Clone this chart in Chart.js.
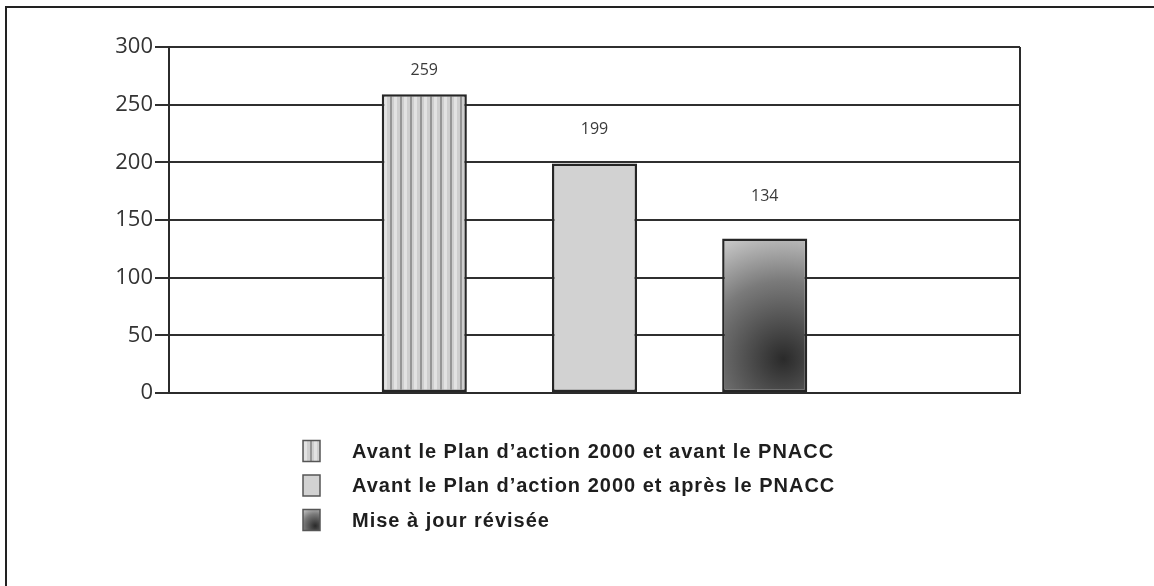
<!DOCTYPE html>
<html>
<head>
<meta charset="utf-8">
<script src="https://cdn.jsdelivr.net/npm/chart.js"></script>
<style>
    * { margin: 0; padding: 0; box-sizing: border-box; }
    body { background: #fff; width: 1154px; height: 586px; overflow: hidden; }
    .frame {
        position: absolute; left: 5px; top: 6px; right: 0; bottom: 0;
        border-top: 2px solid #222; border-left: 2px solid #222;
    }
    .wrap { position: absolute; left: 0; top: 0; width: 1154px; height: 586px; }
</style>
</head>
<body>
<div class="frame"></div>
<div class="wrap"><canvas id="myChart"></canvas></div>
<script>
    // five slots on the x axis, the three bars sit in the middle ones
    const categories = ['', 'Avant PNACC', 'Après PNACC', 'Révisée', ''];
    const seriesLabels = [
        'Avant le Plan d\u2019action 2000 et avant le PNACC',
        'Avant le Plan d\u2019action 2000 et après le PNACC',
        'Mise à jour révisée'
    ];
    const values = [259, 199, 134];
    const slots = [1, 2, 3];
    const yTicks = [0, 50, 100, 150, 200, 250, 300];
    const labelOffsets = [24, 34, 42];

    // vertical stripes for the first bar
    function stripePattern() {
        const c = document.createElement('canvas');
        c.width = 10; c.height = 10;
        const g = c.getContext('2d');
        g.fillStyle = '#cecece'; g.fillRect(0, 0, 10, 10);
        g.fillStyle = '#e2e2e2'; g.fillRect(4, 0, 3, 10);
        g.fillStyle = '#959595'; g.fillRect(0, 0, 2, 10);
        return g.createPattern(c, 'repeat');
    }
    const stripes = stripePattern();

    function shadedFill(ctx, x0, y0, x1, y1) {
        const cx = x0 + (x1 - x0) * 0.72, cy = y0 + (y1 - y0) * 0.78;
        const r = Math.hypot(cx - x0, cy - y0) * 1.05;
        const g = ctx.createRadialGradient(cx, cy, 0, cx, cy, r);
        g.addColorStop(0, '#2a2a2a');
        g.addColorStop(0.55, '#7a7a7a');
        g.addColorStop(1, '#d8d8d8');
        return g;
    }

    function shadedBar(context) {
        const chart = context.chart;
        if (!chart.chartArea || context.raw == null) return '#888';
        const xs = chart.scales.x, ys = chart.scales.y;
        const xc = xs.getPixelForValue(context.dataIndex);
        const half = xs.getPixelForValue(1) - xs.getPixelForValue(0);
        return shadedFill(chart.ctx, xc - half / 4, ys.getPixelForValue(context.raw),
            xc + half / 4, ys.getPixelForValue(0));
    }

    const fills = [stripes, '#d2d2d2', shadedBar];

    const datasets = seriesLabels.map((label, i) => ({
        label: label,
        data: categories.map((c, k) => (k === slots[i] ? values[i] : null)),
        backgroundColor: fills[i],
        borderColor: '#262626',
        borderWidth: 2.5,
        borderSkipped: false
    }));

    const valueLabels = {
        id: 'valueLabels',
        afterDatasetsDraw(chart) {
            const ctx = chart.ctx;
            ctx.save();
            ctx.font = '16px "Open Sans"';
            ctx.fillStyle = '#3a3a3a';
            ctx.textAlign = 'center';
            ctx.textBaseline = 'middle';
            chart.data.datasets.forEach((ds, i) => {
                chart.getDatasetMeta(i).data.forEach((bar, k) => {
                    if (ds.data[k] == null) return;
                    ctx.fillText(ds.data[k], bar.x, bar.y - labelOffsets[i]);
                });
            });
            ctx.restore();
        }
    };

    const plotFrame = {
        id: 'plotFrame',
        afterDatasetsDraw(chart) {
            const a = chart.chartArea, ctx = chart.ctx;
            ctx.save();
            ctx.strokeStyle = '#2b2b2b';
            ctx.lineWidth = 2;
            ctx.beginPath();
            ctx.moveTo(a.right, a.top);
            ctx.lineTo(a.right, a.bottom);
            ctx.stroke();
            ctx.restore();
        }
    };

    // legend stacked in rows below the plot
    const stackedLegend = {
        id: 'stackedLegend',
        afterDraw(chart) {
            const ctx = chart.ctx;
            const boxX = 303, textX = 352, firstY = 451, rowH = 34.5, bw = 17, bh = 21;
            ctx.save();
            ctx.font = 'bold 20px "Liberation Sans", Arial';
            ctx.letterSpacing = '1px';
            ctx.textBaseline = 'middle';
            chart.data.datasets.forEach((ds, i) => {
                const y = firstY + i * rowH;
                const y0 = y - bh / 2;
                ctx.fillStyle = i === 2 ? shadedFill(ctx, boxX, y0, boxX + bw, y0 + bh)
                    : ds.backgroundColor;
                ctx.fillRect(boxX, y0, bw, bh);
                ctx.strokeStyle = '#555';
                ctx.lineWidth = 1.5;
                ctx.strokeRect(boxX, y0, bw, bh);
                ctx.fillStyle = '#1e1e1e';
                ctx.fillText(ds.label, textX, y + 1);
            });
            ctx.restore();
        }
    };

    new Chart(document.getElementById('myChart'), {
        type: 'bar',
        data: { labels: categories, datasets: datasets },
        plugins: [valueLabels, plotFrame, stackedLegend],
        options: {
            responsive: true,
            maintainAspectRatio: false,
            animation: false,
            layout: { padding: { left: 99, right: 134, top: 47, bottom: 193 } },
            datasets: {
                bar: { grouped: false, barPercentage: 0.5, categoryPercentage: 1.0 }
            },
            plugins: {
                legend: { display: false },
                tooltip: { enabled: false }
            },
            scales: {
                x: {
                    ticks: { display: false },
                    grid: { display: false },
                    border: { display: true, color: '#2b2b2b', width: 2 },
                    afterFit(scale) { scale.height = 0; }
                },
                y: {
                    min: yTicks[0],
                    max: yTicks[yTicks.length - 1],
                    afterBuildTicks(scale) {
                        scale.ticks = yTicks.map(v => ({ value: v }));
                    },
                    afterFit(scale) { scale.width = 70; },
                    ticks: {
                        color: '#333',
                        padding: 2,
                        font: { family: '"Open Sans"', size: 22 }
                    },
                    grid: { color: '#2f2f2f', lineWidth: 2, tickLength: 14 },
                    border: { display: true, color: '#2b2b2b', width: 2 }
                }
            }
        }
    });
</script>
</body>
</html>
